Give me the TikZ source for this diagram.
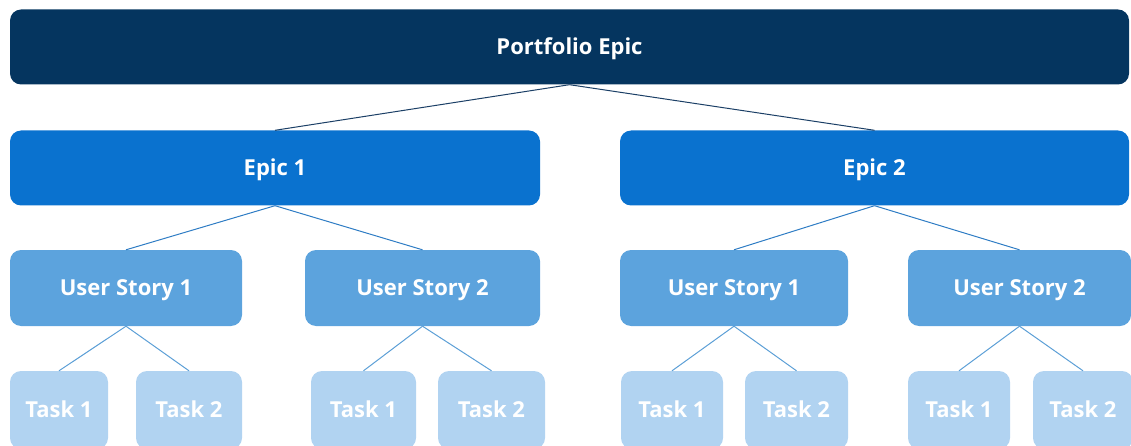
\documentclass[tikz,border=0pt]{standalone}
\usepackage{fontspec}
\setmainfont{Open Sans}
\definecolor{navy}{HTML}{05355F}
\definecolor{epicblue}{HTML}{0A72CF}
\definecolor{storyblue}{HTML}{5CA3DD}
\definecolor{taskblue}{HTML}{B1D3F1}
\definecolor{linenavy}{HTML}{1B3F66}
\definecolor{lineblue}{HTML}{2E7CC4}
\definecolor{linelight}{HTML}{5C9FD6}
\tikzset{
  box/.style={rounded corners=11pt, inner sep=0pt, text=white, font=\fontsize{22}{26}\selectfont\bfseries, text height=15.7pt, text depth=0pt, anchor=center},
  pbox/.style={box, fill=navy},
  ebox/.style={box, fill=epicblue},
  sbox/.style={box, fill=storyblue},
  tbox/.style={box, fill=taskblue},
  link/.style={line width=1pt},
}
\begin{document}
\begin{tikzpicture}[x=1pt,y=-1pt]
\useasboundingbox (0,0) rectangle (1131,446);
\clip (0,0) rectangle (1131,446);
\node[pbox, minimum width=1119pt, minimum height=75pt] (p) at (569.5,47) {Portfolio Epic};
\node[ebox, minimum width=530pt, minimum height=75pt] (e1) at (275,168) {Epic 1};
\node[ebox, minimum width=509pt, minimum height=75pt] (e2) at (874.5,168) {Epic 2};
\node[sbox, minimum width=232pt, minimum height=76pt] (s1) at (126,288) {User Story 1};
\node[sbox, minimum width=235pt, minimum height=76pt] (s2) at (422.5,288) {User Story 2};
\node[sbox, minimum width=228pt, minimum height=76pt] (s3) at (734,288) {User Story 1};
\node[sbox, minimum width=223pt, minimum height=76pt] (s4) at (1019.5,288) {User Story 2};
\node[tbox, minimum width=98pt, minimum height=78pt] (t1) at (59,410) {Task 1};
\node[tbox, minimum width=106pt, minimum height=78pt] (t2) at (189,410) {Task 2};
\node[tbox, minimum width=105pt, minimum height=78pt] (t3) at (363.5,410) {Task 1};
\node[tbox, minimum width=107pt, minimum height=78pt] (t4) at (491.5,410) {Task 2};
\node[tbox, minimum width=102pt, minimum height=78pt] (t5) at (672,410) {Task 1};
\node[tbox, minimum width=103pt, minimum height=78pt] (t6) at (796.5,410) {Task 2};
\node[tbox, minimum width=102pt, minimum height=78pt] (t7) at (959,410) {Task 1};
\node[tbox, minimum width=100pt, minimum height=78pt] (t8) at (1083,410) {Task 2};
\draw[link, linenavy] (p.south) -- (e1.north);
\draw[link, linenavy] (p.south) -- (e2.north);
\draw[link, lineblue] (e1.south) -- (s1.north);
\draw[link, lineblue] (e1.south) -- (s2.north);
\draw[link, lineblue] (e2.south) -- (s3.north);
\draw[link, lineblue] (e2.south) -- (s4.north);
\draw[link, linelight] (s1.south) -- (t1.north);
\draw[link, linelight] (s1.south) -- (t2.north);
\draw[link, linelight] (s2.south) -- (t3.north);
\draw[link, linelight] (s2.south) -- (t4.north);
\draw[link, linelight] (s3.south) -- (t5.north);
\draw[link, linelight] (s3.south) -- (t6.north);
\draw[link, linelight] (s4.south) -- (t7.north);
\draw[link, linelight] (s4.south) -- (t8.north);
\end{tikzpicture}
\end{document}
